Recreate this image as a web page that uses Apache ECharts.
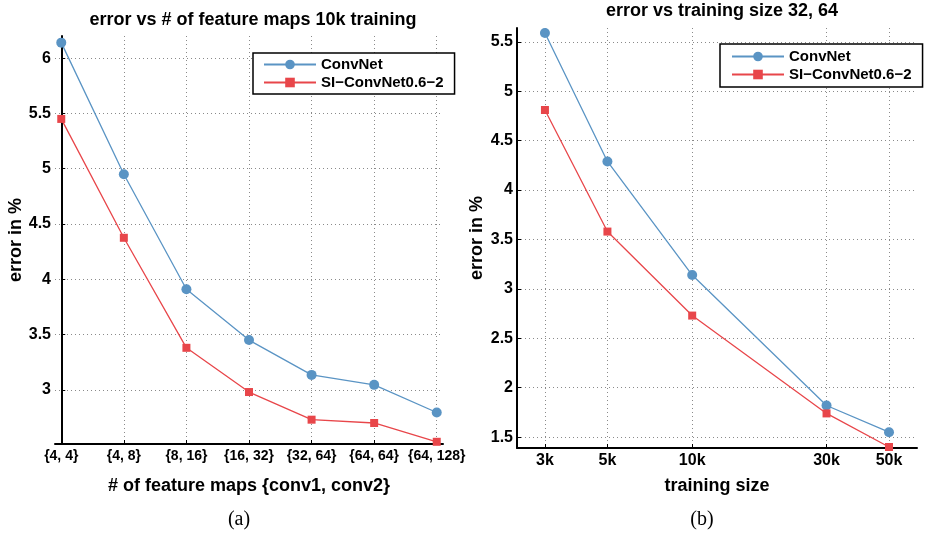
<!DOCTYPE html>
<html><head><meta charset="utf-8">
<script src="https://cdn.jsdelivr.net/npm/echarts@6/dist/echarts.min.js"></script>
<style>html,body{margin:0;padding:0;background:#fff}#c{width:925px;height:533px}</style>
</head><body><div id="c"></div>
<script>
// ---- data: chart (a) ----
const catLabels = ['{4, 4}', '{4, 8}', '{8, 16}', '{16, 32}', '{32, 64}', '{64, 64}', '{64, 128}'];
const convA = [6.14, 4.95, 3.91, 3.45, 3.135, 3.045, 2.795];
const siA = [5.45, 4.375, 3.38, 2.98, 2.73, 2.70, 2.53];
const yTicksA = [3, 3.5, 4, 4.5, 5, 5.5, 6];
// ---- data: chart (b) ----
const sizesB = [3000, 5000, 10000, 30000, 50000];
const sizeLabels = ['3k', '5k', '10k', '30k', '50k'];
const convB = [5.59, 4.29, 3.14, 1.82, 1.55];
const siB = [4.81, 3.58, 2.73, 1.74, 1.40];
const yTicksB = [1.5, 2, 2.5, 3, 3.5, 4, 4.5, 5, 5.5];
const seriesNames = ['ConvNet', 'SI\u2212ConvNet0.6\u22122'];
const idxA = catLabels.map((_, i) => i);

const F = '"Liberation Sans", Arial, Helvetica, sans-serif';
const BLUE = '#5a94c4', RED = '#e8464a';

const chart = echarts.init(document.getElementById('c'));

function yAxis(gi, min, max, ticks, gap) {
  return {
    type: 'value', gridIndex: gi, min: min, max: max,
    name: 'error in %', nameLocation: 'middle', nameGap: gap,
    nameTextStyle: {fontFamily: F, fontWeight: 'bold', fontSize: 18, color: '#000'},
    axisLine: {show: true, lineStyle: {color: '#000', width: 2}},
    axisTick: {show: true, inside: true, length: 4, customValues: ticks, lineStyle: {color: '#000', width: 1}},
    axisLabel: {customValues: ticks, margin: 4, fontFamily: F, fontWeight: 'bold', fontSize: 16, color: '#000'},
    splitLine: {show: true, lineStyle: {color: '#8a8a8a', type: [1, 3], width: 1}}
  };
}
function closestLabel(v) {
  let best = 0;
  sizesB.forEach((s, i) => { if (Math.abs(s - v) < Math.abs(sizesB[best] - v)) best = i; });
  return sizeLabels[best];
}

const option = {
  animation: false,
  backgroundColor: '#fff',
  title: [
    {text: 'error vs # of feature maps 10k training', left: 248, top: 6, textAlign: 'center',
     textStyle: {fontFamily: F, fontWeight: 'bold', fontSize: 18, color: '#000'}},
    {text: 'error vs training size 32, 64', left: 717, top: -3, textAlign: 'center',
     textStyle: {fontFamily: F, fontWeight: 'bold', fontSize: 18, color: '#000'}},
    {text: '(a)', left: 234, top: 505, textAlign: 'center',
     textStyle: {fontFamily: '"Liberation Serif", "Times New Roman", serif', fontWeight: 'normal', fontSize: 20, color: '#000'}},
    {text: '(b)', left: 697, top: 505, textAlign: 'center',
     textStyle: {fontFamily: '"Liberation Serif", "Times New Roman", serif', fontWeight: 'normal', fontSize: 20, color: '#000'}}
  ],
  legend: [
    {data: seriesNames, orient: 'vertical', left: 253, top: 53, itemWidth: 52, itemHeight: 12, itemGap: 3,
     padding: [4, 11, 4, 10], borderColor: '#000', borderWidth: 1.5, backgroundColor: '#fff',
     textStyle: {fontFamily: F, fontWeight: 'bold', fontSize: 15, color: '#000', lineHeight: 15}},
    {data: seriesNames, orient: 'vertical', left: 720, top: 44, itemWidth: 52, itemHeight: 12, itemGap: 3,
     padding: [5, 11, 5, 11], borderColor: '#000', borderWidth: 1.5, backgroundColor: '#fff',
     textStyle: {fontFamily: F, fontWeight: 'bold', fontSize: 15, color: '#000', lineHeight: 15}}
  ],
  grid: [
    {left: 55, top: 36, width: 388, height: 408, containLabel: false},
    {left: 517, top: 28, width: 400, height: 420, containLabel: false}
  ],
  xAxis: [
    {type: 'value', gridIndex: 0, min: -0.1, max: 6.1,
     name: '# of feature maps {conv1, conv2}', nameLocation: 'middle', nameGap: 33,
     nameTextStyle: {fontFamily: F, fontWeight: 'bold', fontSize: 18, color: '#000'},
     axisLine: {show: true, lineStyle: {color: '#000', width: 2}},
     axisTick: {show: true, inside: true, length: 4, customValues: idxA, lineStyle: {color: '#000'}},
     axisLabel: {customValues: idxA, margin: 5, fontFamily: F, fontWeight: 'bold', fontSize: 14, color: '#000',
                 formatter: v => catLabels[Math.round(v)]},
     splitLine: {show: true, lineStyle: {color: '#8a8a8a', type: [1, 3], width: 1}}},
    {type: 'log', logBase: 10, gridIndex: 1, min: 2387, max: 62860,
     name: 'training size', nameLocation: 'middle', nameGap: 29,
     nameTextStyle: {fontFamily: F, fontWeight: 'bold', fontSize: 18, color: '#000'},
     axisLine: {show: true, lineStyle: {color: '#000', width: 2}},
     axisTick: {show: true, inside: true, length: 4, customValues: sizesB, lineStyle: {color: '#000'}},
     axisLabel: {customValues: sizesB, margin: 5, fontFamily: F, fontWeight: 'bold', fontSize: 16, color: '#000',
                 formatter: v => closestLabel(v)},
     splitLine: {show: true, lineStyle: {color: '#8a8a8a', type: [1, 3], width: 1}}}
  ],
  yAxis: [
    yAxis(0, 2.51, 6.2, yTicksA, 28),
    yAxis(1, 1.39, 5.64, yTicksB, 31)
  ],
  series: [
    {name: seriesNames[0], type: 'line', xAxisIndex: 0, yAxisIndex: 0, data: idxA.map(i => [i, convA[i]]),
     symbol: 'circle', symbolSize: 10, itemStyle: {color: BLUE}, lineStyle: {color: BLUE, width: 1.3}, z: 3},
    {name: seriesNames[1], type: 'line', xAxisIndex: 0, yAxisIndex: 0, data: idxA.map(i => [i, siA[i]]),
     symbol: 'rect', symbolSize: 8, itemStyle: {color: RED}, lineStyle: {color: RED, width: 1.3}, z: 3},
    {name: seriesNames[0], type: 'line', xAxisIndex: 1, yAxisIndex: 1, data: sizesB.map((s, i) => [s, convB[i]]),
     symbol: 'circle', symbolSize: 10, itemStyle: {color: BLUE}, lineStyle: {color: BLUE, width: 1.3}, z: 3},
    {name: seriesNames[1], type: 'line', xAxisIndex: 1, yAxisIndex: 1, data: sizesB.map((s, i) => [s, siB[i]]),
     symbol: 'rect', symbolSize: 8, itemStyle: {color: RED}, lineStyle: {color: RED, width: 1.3}, z: 3}
  ]
};
chart.setOption(option);
</script>
</body></html>
